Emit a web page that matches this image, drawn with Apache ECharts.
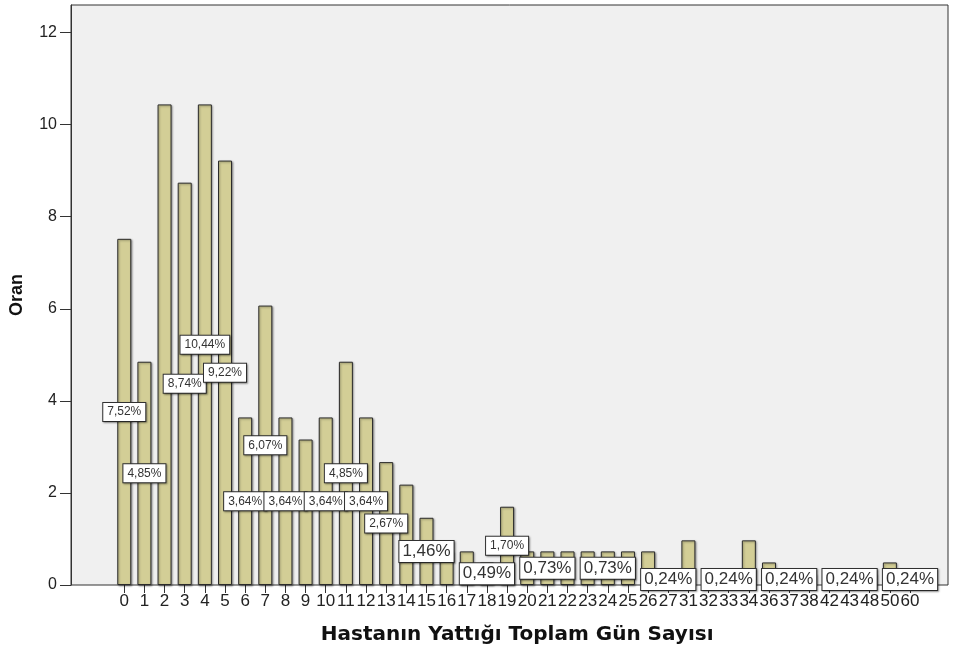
<!DOCTYPE html>
<html>
<head>
<meta charset="utf-8">
<script src="https://cdn.jsdelivr.net/npm/echarts@6/dist/echarts.min.js"></script>
<style>
  html, body { margin: 0; padding: 0; background: #ffffff; }
  #chart { width: 957px; height: 651px; }
</style>
</head>
<body>
<div id="chart"></div>
<script>
// Length of hospital stay (days) and share of patients (%)
const days = ['0','1','2','3','4','5','6','7','8','9','10','11','12','13','14','15','16','17','18','19',
  '20','21','22','23','24','25','26','27','31','32','33','34','36','37','38','42','43','48','50','60'];
const percent = [7.52, 4.85, 10.44, 8.74, 10.44, 9.22, 3.64, 6.07, 3.64, 3.16,
  3.64, 4.85, 3.64, 2.67, 2.18, 1.46, 0.73, 0.73, 0.49, 1.70,
  0.73, 0.73, 0.73, 0.73, 0.73, 0.73, 0.73, 0.24, 0.97, 0.24,
  0.24, 0.97, 0.49, 0.24, 0.24, 0.24, 0.24, 0.24, 0.49, 0.24];
const yTicks = [0, 2, 4, 6, 8, 10, 12];
// Days whose bar carries a value label (two label sizes)
const smallLabelDays = ['0','1','3','4','5','6','7','8','10','11','12','13','19'];
const largeLabelDays = ['15','18','21','24','27','33','37','43','60'];

const Y_MAX = 12.6;
const FONT = '"Liberation Sans", Arial, sans-serif';

const labelBase = {
  position: 'inside',
  color: '#333',
  fontFamily: FONT,
  backgroundColor: '#ffffff',
  borderColor: '#333',
  borderWidth: 1,
  shadowColor: 'rgba(0,0,0,0.35)',
  shadowBlur: 2,
  shadowOffsetX: 1,
  shadowOffsetY: 1,
  formatter: p => p.value.toFixed(2).replace('.', ',') + '%'
};

const barData = percent.map((v, i) => {
  const d = days[i];
  if (smallLabelDays.includes(d)) {
    return { value: v, label: { show: true, fontSize: 12, padding: [3, 4] } };
  }
  if (largeLabelDays.includes(d)) {
    return { value: v, label: { show: true, fontSize: 17, padding: [2, 3] } };
  }
  return { value: v, label: { show: false } };
});

const chart = echarts.init(document.getElementById('chart'), null, { renderer: 'canvas' });
chart.setOption({
  animation: false,
  backgroundColor: '#ffffff',
  grid: [
    { left: 70, right: 9, top: 5, bottom: 66, show: true, backgroundColor: '#f0f0f0', borderColor: '#333', borderWidth: 1 },
    { left: 114.2, right: 36.9, top: 5, bottom: 66 }
  ],
  xAxis: [
    { gridIndex: 0, type: 'value', min: 0, max: 1, show: false },
    {
      gridIndex: 1, type: 'category', data: days, boundaryGap: true,
      axisLine: { show: false },
      axisTick: { show: true, alignWithLabel: true, length: 8, lineStyle: { color: '#333', width: 1 } },
      axisLabel: { interval: 0, fontSize: 17, margin: 8, color: '#222', fontFamily: FONT },
      name: 'Hastanın Yattığı Toplam Gün Sayısı',
      nameLocation: 'middle', nameGap: 40,
      nameTextStyle: { fontSize: 20, fontWeight: 'bold', color: '#111', fontFamily: '"DejaVu Sans", Verdana, sans-serif' }
    }
  ],
  yAxis: [
    {
      gridIndex: 0, type: 'value', min: 0, max: Y_MAX,
      axisLine: { show: true, lineStyle: { color: '#333', width: 1 } },
      axisTick: { show: true, length: 11, customValues: yTicks, lineStyle: { color: '#333', width: 1 } },
      axisLabel: { customValues: yTicks, fontSize: 16, margin: 14, color: '#222', fontFamily: FONT },
      splitLine: { show: false },
      name: 'Oran', nameLocation: 'middle', nameGap: 45,
      nameTextStyle: { fontSize: 18, fontWeight: 'bold', color: '#111', fontFamily: FONT }
    },
    { gridIndex: 1, type: 'value', min: 0, max: Y_MAX, show: false }
  ],
  series: [{
    type: 'bar',
    xAxisIndex: 1,
    yAxisIndex: 1,
    barWidth: 14,
    data: barData,
    itemStyle: {
      color: '#d3ce96',
      borderColor: '#2b2b2b',
      borderWidth: 1,
      shadowColor: 'rgba(0,0,0,0.35)',
      shadowBlur: 2,
      shadowOffsetX: 1,
      shadowOffsetY: 1
    },
    label: labelBase
  }]
});
</script>
</body>
</html>
